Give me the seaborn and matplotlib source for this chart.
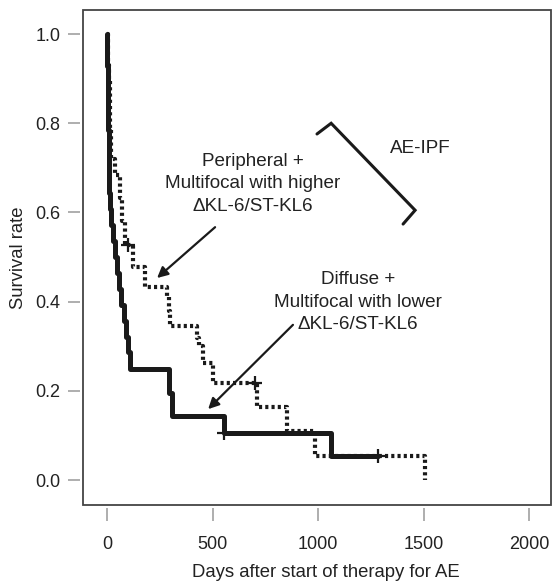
import numpy as np
import pandas as pd
import matplotlib
matplotlib.use('Agg')
import matplotlib.pyplot as plt
import seaborn as sns
from matplotlib.patches import Rectangle

sns.set_theme(style='white')
plt.rcParams['font.family'] = ['Liberation Sans', 'DejaVu Sans']

# Diffuse + Multifocal with lower dKL-6/ST-KL6 (solid)
solid_days = [0, 1, 2, 3, 4, 5, 6, 7, 8, 9, 10, 14, 19, 26, 38, 45, 55, 66, 78, 92,
              100, 109, 294, 310, 555, 1062, 1284]
solid_surv = [1.0, .964, .929, .893, .857, .821, .786, .75, .714, .679, .643, .607, .571,
              .536, .5, .464, .429, .393, .357, .321, .286, .25, .196, .143, .105, .053, .053]
solid_cens_days = [555, 1284]
solid_cens_surv = [.105, .053]

# Peripheral + Multifocal with higher dKL-6/ST-KL6 (dotted)
dot_days = [0, 3, 6, 9, 12, 14, 16, 18, 20, 38, 62, 70, 85, 125, 180, 284, 292, 300,
            427, 436, 455, 500, 712, 853, 985, 1507]
dot_surv = [1.0, .965, .93, .895, .86, .825, .79, .755, .72, .685, .632, .58, .527, .478,
            .433, .41, .38, .345, .318, .30, .262, .217, .164, .11, .055, 0.0]
dot_cens_days = [100, 701]
dot_cens_surv = [.527, .217]

x_ticks = [0, 500, 1000, 1500, 2000]
y_ticks = [0.0, 0.2, 0.4, 0.6, 0.8, 1.0]

solid = pd.DataFrame({'days': solid_days, 'surv': solid_surv})
dotted = pd.DataFrame({'days': dot_days, 'surv': dot_surv})

W, H = 552, 581
fig = plt.figure(figsize=(W / 100, H / 100), dpi=100)
ax = fig.add_axes([83 / W, (H - 505) / H, 468 / W, 495 / H])

txt = '#222222'
sns.lineplot(data=dotted, x='days', y='surv', ax=ax, estimator=None, drawstyle='steps-post',
             color='#1a1a1a', lw=3, dashes=False, linestyle=(0, (0.75, 0.75)),
             solid_capstyle='butt', zorder=2)
sns.lineplot(data=solid, x='days', y='surv', ax=ax, estimator=None, drawstyle='steps-post',
             color='#1a1a1a', lw=3.6, zorder=3)
sns.scatterplot(x=dot_cens_days, y=dot_cens_surv, ax=ax, marker='+', s=110,
                color='#1a1a1a', linewidth=1.6, zorder=4)
sns.scatterplot(x=solid_cens_days, y=solid_cens_surv, ax=ax, marker='+', s=110,
                color='#1a1a1a', linewidth=1.6, zorder=4)

ax.set_xlim(-114, 2104)
ax.set_ylim(-0.056, 1.054)
ax.set_xticks(x_ticks)
ax.set_xticklabels([str(t) for t in x_ticks])
ax.set_yticks(y_ticks)
ax.set_yticklabels([f'{t:.1f}' for t in y_ticks])

# R-style detached ticks, box drawn separately
for side in ['left', 'bottom']:
    ax.spines[side].set_position(('outward', 2.2))
    ax.spines[side].set_visible(False)
for side in ['top', 'right']:
    ax.spines[side].set_visible(False)
ax.add_patch(Rectangle((0, 0), 1, 1, transform=ax.transAxes, fill=False,
                       edgecolor='#444444', lw=1.3, clip_on=False, zorder=5))
ax.tick_params(axis='both', which='major', direction='out', length=9, width=1.1,
               color='#999999', labelsize=13, labelcolor=txt, bottom=True, left=True)
ax.tick_params(axis='x', pad=11)
ax.tick_params(axis='y', pad=5)

ax.set_xlabel('Days after start of therapy for AE', fontsize=13.3, color=txt)
ax.set_ylabel('Survival rate', fontsize=13.3, color=txt)
ax.xaxis.set_label_coords(0.519, -0.137)
ax.yaxis.set_label_coords(-0.138, 0.5)
ax.xaxis.label.set_va('center')
ax.yaxis.label.set_va('center')

ax.text(692, 0.664, 'Peripheral +\nMultifocal with higher\n\u0394KL-6/ST-KL6', ha='center',
        va='center', fontsize=13.6, color=txt, linespacing=1.45)
ax.text(1190, 0.399, 'Diffuse +\nMultifocal with lower\n\u0394KL-6/ST-KL6', ha='center',
        va='center', fontsize=13.6, color=txt, linespacing=1.45)
ax.text(1483, 0.744, 'AE-IPF', ha='center', va='center', fontsize=13.6, color=txt)

arrow = dict(arrowstyle='-|>', color='#1a1a1a', lw=1.6, mutation_scale=16, shrinkA=0, shrinkB=0)
ax.annotate('', xy=(237, 0.453), xytext=(512, 0.567), arrowprops=arrow)
ax.annotate('', xy=(479, 0.159), xytext=(881, 0.348), arrowprops=arrow)

ax.plot([995, 1062, 1460, 1403], [0.776, 0.800, 0.605, 0.574], color='#1a1a1a', lw=2.2,
        solid_joinstyle='miter')

fig.savefig('out.png', dpi=100)
